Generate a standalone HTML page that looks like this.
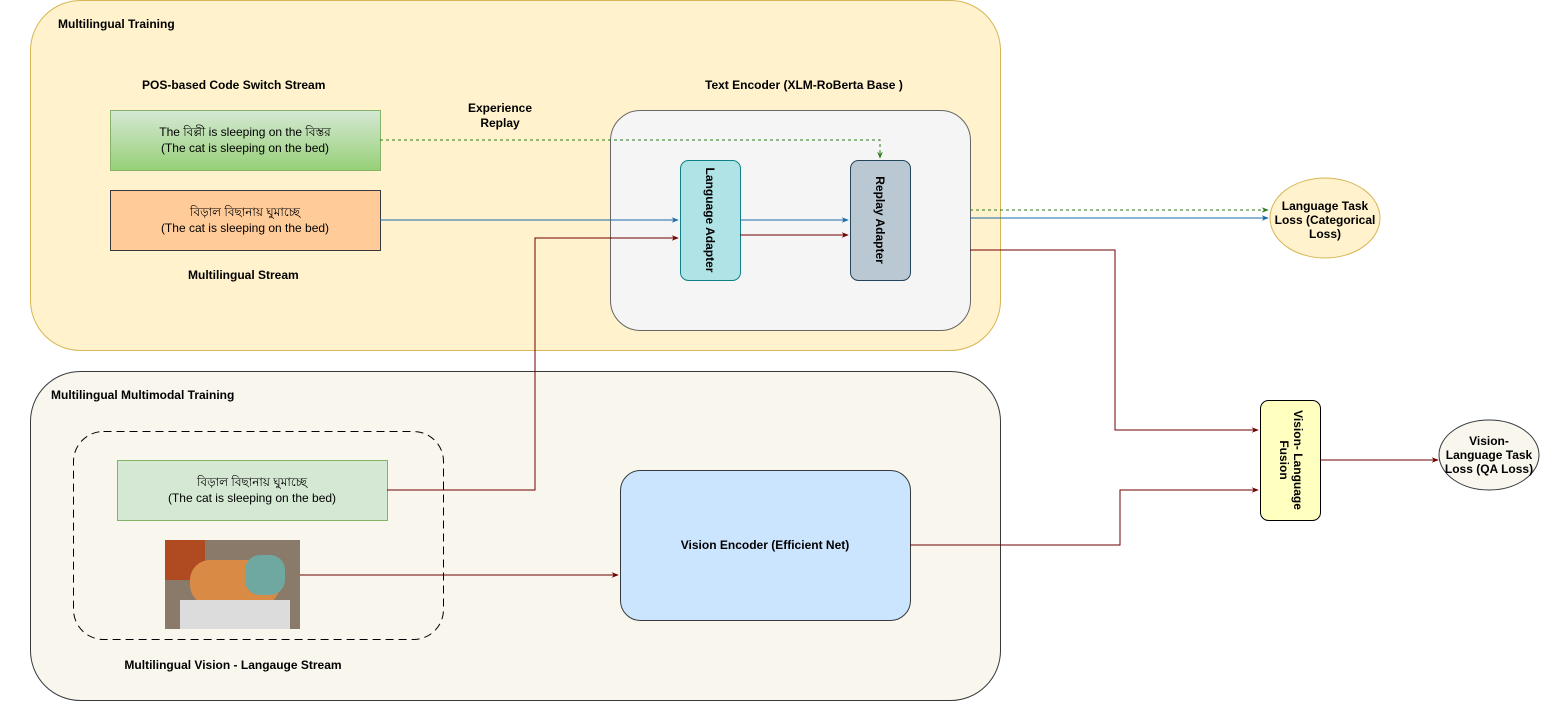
<!DOCTYPE html>
<html><head><meta charset="utf-8"><style>body{margin:0;background:#fff}svg{display:block}text{font-family:"Liberation Sans",Arial,sans-serif;font-size:12px;fill:#000}.b{font-weight:bold}</style></head><body>
<svg width="1541" height="702" viewBox="0 0 1541 702" xmlns="http://www.w3.org/2000/svg">
<defs>
<linearGradient id="g" x1="0" y1="0" x2="0" y2="1"><stop offset="0" stop-color="#d5e8d4"/><stop offset="1" stop-color="#97d077"/></linearGradient>
<marker id="ar" viewBox="0 0 10 10" refX="9" refY="5" markerWidth="7" markerHeight="7" orient="auto"><path d="M0,1 L10,5 L0,9 L3,5z" fill="#6f0000"/></marker>
<marker id="ab" viewBox="0 0 10 10" refX="9" refY="5" markerWidth="7" markerHeight="7" orient="auto"><path d="M0,1 L10,5 L0,9 L3,5z" fill="#1a6aa8"/></marker>
<marker id="ag" viewBox="0 0 10 10" refX="9" refY="5" markerWidth="7" markerHeight="7" orient="auto"><path d="M0,1 L10,5 L0,9 L3,5z" fill="#2d7a1a"/></marker>
</defs>
<rect x="30.5" y="0.5" width="970" height="350" rx="50" fill="#fff2cc" stroke="#d6b656"/>
<rect x="30.5" y="371.5" width="970" height="329" rx="50" fill="#f9f7ed" stroke="#36393d"/>
<text x="58" y="28" class="b" font-size="11">Multilingual  Training</text>
<text x="51" y="399" class="b" font-size="11">Multilingual Multimodal Training</text>
<text x="142" y="89" class="b" font-size="11">POS-based Code Switch Stream</text>
<text x="188" y="279" class="b" font-size="11">Multilingual  Stream</text>
<text x="705" y="89" class="b" font-size="11">Text Encoder  (XLM-RoBerta Base )</text>
<text x="500" y="112" class="b" font-size="11" text-anchor="middle">Experience</text>
<text x="500" y="127" class="b" font-size="11" text-anchor="middle">Replay</text>
<text x="233" y="669" class="b" font-size="11" text-anchor="middle">Multilingual Vision - Langauge  Stream</text>
<rect x="110.5" y="110.5" width="270" height="60" fill="url(#g)" stroke="#82b366"/>
<text x="245" y="136" text-anchor="middle" font-family="'Liberation Sans','Noto Sans Bengali',sans-serif">The বিল্লী is sleeping on the বিস্তর</text>
<text x="245" y="152" text-anchor="middle">(The cat is sleeping on the bed)</text>
<rect x="110.5" y="190.5" width="270" height="60" fill="#ffcc99" stroke="#36393d"/>
<text x="245" y="216" text-anchor="middle" font-family="'Liberation Sans','Noto Sans Bengali',sans-serif">বিড়াল বিছানায় ঘুমাচ্ছে</text>
<text x="245" y="232" text-anchor="middle">(The cat is sleeping on the bed)</text>
<rect x="610.5" y="110.5" width="360" height="220" rx="30" fill="#f5f5f5" stroke="#666"/>
<rect x="680.5" y="160.5" width="60" height="120" rx="8" fill="#b0e3e6" stroke="#0e8088"/>
<text transform="translate(706,220) rotate(90)" class="b" font-size="11" text-anchor="middle">Language Adapter</text>
<rect x="850.5" y="160.5" width="60" height="120" rx="8" fill="#bac8d3" stroke="#23445d"/>
<text transform="translate(876,220) rotate(90)" class="b" font-size="11" text-anchor="middle">Replay Adapter</text>
<ellipse cx="1325" cy="218" rx="55" ry="40" fill="#fff2cc" stroke="#d6b656"/>
<text x="1325" y="210" class="b" text-anchor="middle">Language Task</text>
<text x="1325" y="224" class="b" text-anchor="middle">Loss (Categorical</text>
<text x="1325" y="238" class="b" text-anchor="middle">Loss)</text>
<rect x="73.5" y="431.5" width="370" height="208" rx="30" fill="none" stroke="#000" stroke-dasharray="8,5"/>
<rect x="117.5" y="460.5" width="270" height="60" fill="#d5e8d4" stroke="#82b366"/>
<text x="252" y="486" text-anchor="middle" font-family="'Liberation Sans','Noto Sans Bengali',sans-serif">বিড়াল বিছানায় ঘুমাচ্ছে</text>
<text x="252" y="502" text-anchor="middle">(The cat is sleeping on the bed)</text>
<rect x="165" y="540" width="135" height="89" fill="#8a7a6a"/>
<rect x="165" y="540" width="40" height="40" fill="#b04a20"/>
<rect x="190" y="560" width="90" height="45" rx="20" fill="#d98a45"/>
<rect x="180" y="600" width="110" height="29" fill="#dcdcdc"/>
<rect x="245" y="555" width="40" height="40" rx="15" fill="#6fa8a0"/>
<rect x="620.5" y="470.5" width="290" height="150" rx="20" fill="#cce5ff" stroke="#36393d"/>
<text x="765" y="549" class="b" font-size="11" text-anchor="middle">Vision Encoder (Efficient Net)</text>
<rect x="1260.5" y="400.5" width="60" height="120" rx="8" fill="#ffffc0" stroke="#000"/>
<text transform="translate(1294,460) rotate(90)" class="b" text-anchor="middle">Vision- Language</text>
<text transform="translate(1280,460) rotate(90)" class="b" text-anchor="middle">Fusion</text>
<ellipse cx="1489" cy="455" rx="50" ry="35" fill="#f9f7ed" stroke="#36393d"/>
<text x="1489" y="445" class="b" text-anchor="middle">Vision-</text>
<text x="1489" y="459" class="b" text-anchor="middle">Language Task</text>
<text x="1489" y="473" class="b" text-anchor="middle">Loss (QA Loss)</text>
<g fill="none">
<path d="M380,140 H880 V158" stroke="#2d7a1a" stroke-dasharray="3,3" marker-end="url(#ag)"/>
<path d="M970,210 H1268" stroke="#2d7a1a" stroke-dasharray="3,3" marker-end="url(#ag)"/>
<path d="M380,220 L678,220" stroke="#1a6aa8" marker-end="url(#ab)"/>
<path d="M740,220 H848" stroke="#1a6aa8" marker-end="url(#ab)"/>
<path d="M970,218 H1268" stroke="#1a6aa8" marker-end="url(#ab)"/>
<path d="M387,490 H535 V238 H678" stroke="#6f0000" marker-end="url(#ar)"/>
<path d="M740,235 H848" stroke="#6f0000" marker-end="url(#ar)"/>
<path d="M970,250 H1115 V430 H1258" stroke="#6f0000" marker-end="url(#ar)"/>
<path d="M910,545 H1120 V490 H1258" stroke="#6f0000" marker-end="url(#ar)"/>
<path d="M300,575 H618" stroke="#6f0000" marker-end="url(#ar)"/>
<path d="M1320,460 H1438" stroke="#6f0000" marker-end="url(#ar)"/>
</g>
</svg>
</body></html>
